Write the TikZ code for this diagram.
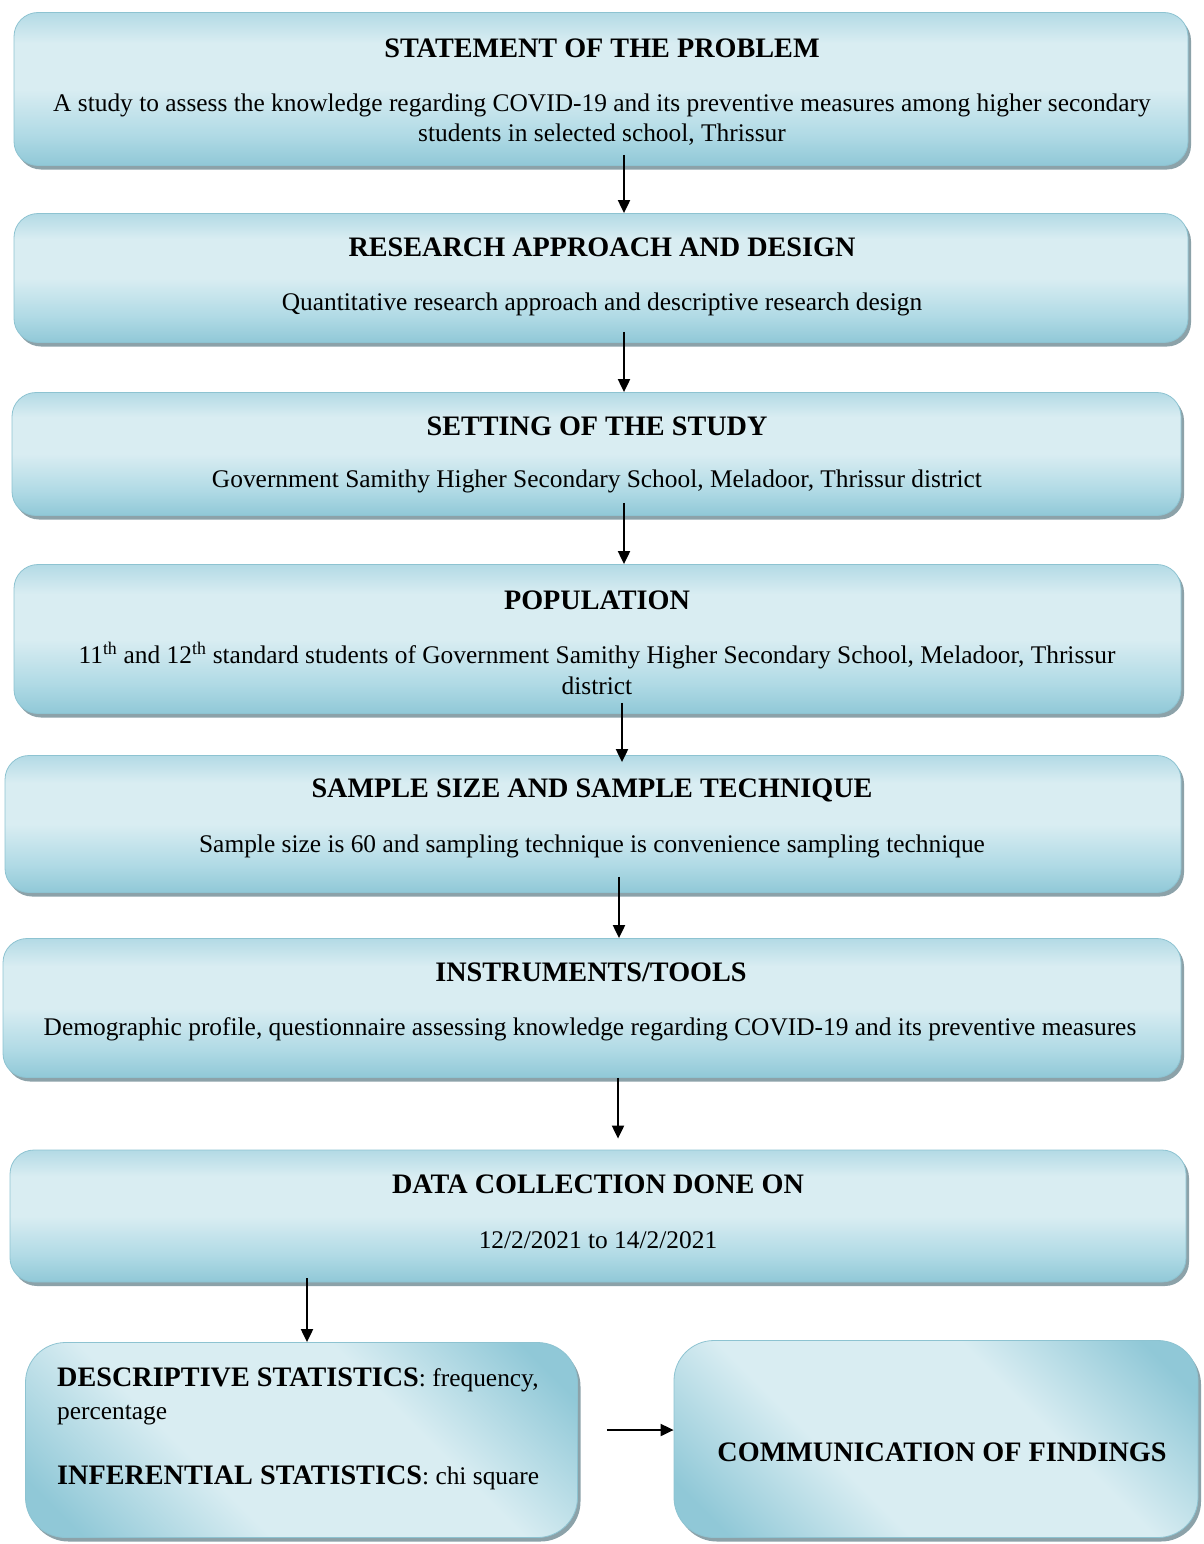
\documentclass[tikz,border=0pt]{standalone}
\usepackage{fontspec}
\setmainfont{Liberation Serif}
\usetikzlibrary{arrows.meta,shadows}
\definecolor{bdark}{HTML}{90C8D7}
\definecolor{bmid}{HTML}{B0DAE5}
\definecolor{blight}{HTML}{D9EDF2}
\definecolor{btop}{HTML}{B3DAE5}
\definecolor{bedge}{HTML}{8DC3D1}
\definecolor{shadowc}{HTML}{7F98A0}
\pgfdeclareverticalshading{boxshade}{100bp}{color(0bp)=(bdark); color(25bp)=(bdark); color(35bp)=(bmid); color(50bp)=(blight); color(65bp)=(blight); color(75bp)=(btop); color(100bp)=(btop)}
\pgfdeclareverticalshading{bigshade}{100bp}{color(0bp)=(bdark); color(20bp)=(bdark); color(38bp)=(blight); color(62bp)=(blight); color(80bp)=(bdark); color(100bp)=(bdark)}
\tikzset{
  box/.style={draw=bedge, line width=0.8pt, rounded corners=24pt, shading=boxshade,
    inner sep=0pt, drop shadow={shadow xshift=3pt, shadow yshift=-4pt, fill=shadowc, opacity=0.9}},
  bigbox/.style={box, rounded corners=40pt, shading=bigshade, shading angle=-45},
  ttl/.style={font=\fontsize{28.2}{32}\selectfont\bfseries, anchor=center, inner sep=0pt},
  bdy/.style={font=\fontsize{25.4}{30}\selectfont, anchor=center, inner sep=0pt},
  arr/.style={line width=2pt, -{Triangle[length=13pt,width=12pt]}}
}
\begin{document}
\begin{tikzpicture}[x=1pt,y=-1pt]
\useasboundingbox (0,0) rectangle (1203,1544);
% boxes
\node[box, minimum width=1174pt, minimum height=153pt] (b1) at (601,89) {};
\node[box, minimum width=1174pt, minimum height=129pt] (b2) at (601,278) {};
\node[box, minimum width=1169pt, minimum height=123pt] (b3) at (596.5,454) {};
\node[box, minimum width=1167pt, minimum height=149pt] (b4) at (597.5,639) {};
\node[box, minimum width=1176pt, minimum height=137pt] (b5) at (593,824) {};
\node[box, minimum width=1178pt, minimum height=139pt] (b6) at (592,1008) {};
\node[box, minimum width=1176pt, minimum height=132pt] (b7) at (598,1216) {};
\node[bigbox, minimum width=552pt, minimum height=195pt] (b8) at (301.5,1440) {};
\node[bigbox, minimum width=524pt, minimum height=197pt] (b9) at (936,1439) {};
% texts
\node[ttl] (t1) at (602,48) {STATEMENT OF THE PROBLEM};
\node[bdy] (d1a) at (602,105) {A study to assess the knowledge regarding COVID-19 and its preventive measures among higher secondary};
\node[bdy] (d1b) at (602,135) {students in selected school, Thrissur};
\node[ttl] (t2) at (602,247) {RESEARCH APPROACH AND DESIGN};
\node[bdy] (d2) at (602,304) {Quantitative research approach and descriptive research design};
\node[ttl] (t3) at (597,426) {SETTING OF THE STUDY};
\node[bdy] (d3) at (597,481) {Government Samithy Higher Secondary School, Meladoor, Thrissur district};
\node[ttl] (t4) at (597,600) {POPULATION};
\node[bdy] (d4a) at (597,656) {11\textsuperscript{th} and 12\textsuperscript{th} standard students of Government Samithy Higher Secondary School, Meladoor, Thrissur};
\node[bdy] (d4b) at (597,686) {district};
\node[ttl] (t5) at (592,790) {SAMPLE SIZE AND SAMPLE TECHNIQUE};
\node[bdy] (d5) at (592,846) {Sample size is 60 and sampling technique is convenience sampling technique};
\node[ttl] (t6) at (591,972) {INSTRUMENTS/TOOLS};
\node[bdy] (d6) at (590,1029) {Demographic profile, questionnaire assessing knowledge regarding COVID-19 and its preventive measures};
\node[ttl] (t7) at (598,1184) {DATA COLLECTION DONE ON};
\node[bdy] (d7) at (598,1240) {12/2/2021 to 14/2/2021};
\node[bdy, anchor=west] (d8a) at (57,1380) {{\fontsize{28.2}{32}\selectfont\bfseries DESCRIPTIVE STATISTICS}: frequency,};
\node[bdy, anchor=west] (d8b) at (57,1415) {percentage};
\node[bdy, anchor=west] (d8c) at (57,1478) {{\fontsize{28.2}{32}\selectfont\bfseries INFERENTIAL STATISTICS}: chi square};
\node[ttl] (t9) at (942,1452) {COMMUNICATION OF FINDINGS};
% arrow positions
\coordinate (x1) at (624,0);
\coordinate (x4) at (622,0);
\coordinate (x5) at (619,0);
\coordinate (x6) at (618,0);
\coordinate (x7) at (307,0);
\coordinate (y8) at (0,1430);
% arrows
\draw[arr, shorten <=-11pt] (b1.south -| x1) -- (b2.north -| x1);
\draw[arr, shorten <=-11pt] (b2.south -| x1) -- (b3.north -| x1);
\draw[arr, shorten <=-13pt] (b3.south -| x1) -- (b4.north -| x1);
\draw[arr, shorten <=-11pt, shorten >=-7pt] (b4.south -| x4) -- (b5.north -| x4);
\draw[arr, shorten <=-16pt] (b5.south -| x5) -- (b6.north -| x5);
\draw[arr, shorten >=11pt] (b6.south -| x6) -- (b7.north -| x6);
\draw[arr, shorten <=-4pt] (b7.south -| x7) -- (b8.north -| x7);
\draw[arr, shorten <=29pt] (b8.east |- y8) -- (b9.west |- y8);
\end{tikzpicture}
\end{document}
